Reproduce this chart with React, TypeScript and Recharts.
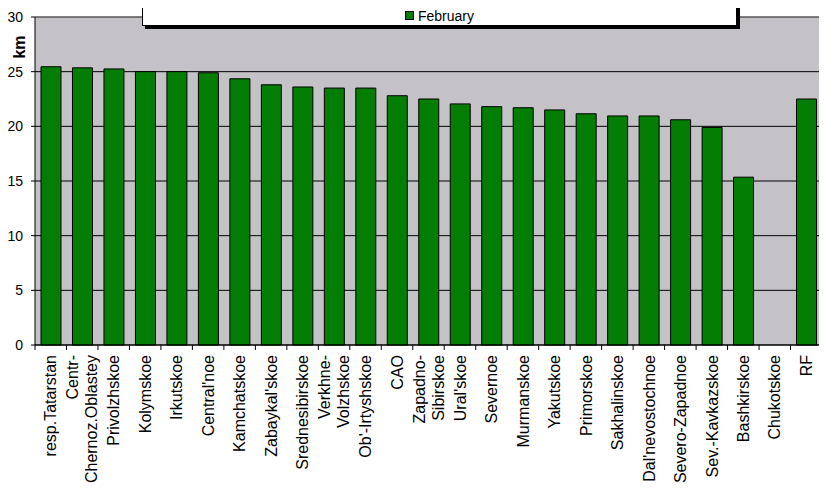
import { BarChart, Bar, XAxis, YAxis, CartesianGrid } from "recharts";

const regions = [
  "resp.Tatarstan",
  "Centr-\nChernoz.Oblastey",
  "Privolzhskoe",
  "Kolymskoe",
  "Irkutskoe",
  "Central'noe",
  "Kamchatskoe",
  "Zabaykal'skoe",
  "Srednesibirskoe",
  "Verkhne-\nVolzhskoe",
  "Ob'-Irtyshskoe",
  "CAO",
  "Zapadno-\nSibirskoe",
  "Ural'skoe",
  "Severnoe",
  "Murmanskoe",
  "Yakutskoe",
  "Primorskoe",
  "Sakhalinskoe",
  "Dal'nevostochnoe",
  "Severo-Zapadnoe",
  "Sev.-Kavkazskoe",
  "Bashkirskoe",
  "Chukotskoe",
  "RF",
];

const february = [
  25.45, 25.35, 25.25, 25.0, 25.0, 24.9, 24.35, 23.8, 23.6, 23.5, 23.5, 22.8, 22.5,
  22.05, 21.8, 21.7, 21.5, 21.15, 20.95, 20.95, 20.6, 19.9, 15.35, null, 22.5,
];

const yTicks = [0, 5, 10, 15, 20, 25, 30];

const data = regions.map((region, i) => ({ region, february: february[i] }));

const FONT = "'Liberation Sans', Arial, sans-serif";
const GREEN = "#047D04";

const RegionTick = (props: any) => {
  const { x, y, payload, index, visibleTicksCount, width } = props;
  const band = width && visibleTicksCount ? width / visibleTicksCount : 31.48;
  const axisY = y - 10;
  const lines = String(payload.value).split("\n");
  const lh = 19;
  return (
    <g>
      <line x1={x - band / 2} x2={x - band / 2} y1={axisY} y2={axisY + 5} stroke="#000" />
      {index === visibleTicksCount - 1 && (
        <line x1={x + band / 2} x2={x + band / 2} y1={axisY} y2={axisY + 5} stroke="#000" />
      )}
      <g transform={`translate(${x},${y}) rotate(-90)`}>
        {lines.map((line, i) => (
          <text
            key={i}
            x={0}
            y={0}
            dy={(i - (lines.length - 1) / 2) * lh + 5.7}
            textAnchor="end"
            fontSize={16}
            fontFamily={FONT}
            fill="#000"
          >
            {line}
          </text>
        ))}
      </g>
    </g>
  );
};

export default function App() {
  return (
    <div style={{ position: "relative", margin: -8, width: 827, height: 492, background: "#fff" }}>
      <BarChart
        width={827}
        height={492}
        data={data}
        margin={{ top: 17, right: 5, bottom: 0, left: 0 }}
        barSize={20}
      >
        <CartesianGrid vertical={false} fill="#C4C2C6" fillOpacity={1} stroke="#000" />
        <CartesianGrid
          fill="none"
          stroke="#808080"
          horizontalCoordinatesGenerator={(p: any) => [p && p.offset ? p.offset.top : 17]}
          verticalCoordinatesGenerator={(p: any) => [
            p && p.offset ? p.offset.left + p.offset.width : 822,
          ]}
        />
        <XAxis
          dataKey="region"
          interval={0}
          height={147}
          tickSize={5}
          tickMargin={5}
          tickLine={false}
          axisLine={{ stroke: "#000" }}
          tick={<RegionTick />}
        />
        <YAxis
          width={35}
          domain={[0, 30]}
          ticks={yTicks}
          tickSize={4}
          tickMargin={8}
          axisLine={{ stroke: "#000" }}
          tickLine={{ stroke: "#000" }}
          tick={{ fontSize: 14, fill: "#000", fontFamily: FONT }}
          label={{
            content: ({ viewBox }: any) => (
              <text
                transform={`translate(${viewBox.x + 25},${viewBox.y + 30}) rotate(-90)`}
                textAnchor="middle"
                fontSize={16}
                fontWeight="bold"
                fontFamily={FONT}
                fill="#000"
              >
                km
              </text>
            ),
          }}
        />
        <Bar
          dataKey="february"
          name="February"
          fill={GREEN}
          stroke="#000"
          strokeWidth={1}
          isAnimationActive={false}
        />
      </BarChart>
      <div
        style={{
          position: "absolute",
          left: 142,
          top: 5,
          width: 595,
          height: 21,
          boxSizing: "border-box",
          border: "1px solid #000",
          background: "#fff",
          boxShadow: "3px 3px 0 #000",
          display: "flex",
          alignItems: "center",
          justifyContent: "center",
          fontFamily: FONT,
          fontSize: 14,
          color: "#000",
        }}
      >
        <span
          style={{
            display: "inline-block",
            width: 9,
            height: 9,
            boxSizing: "border-box",
            background: GREEN,
            border: "1px solid #000",
            marginRight: 4,
          }}
        />
        <span>February</span>
      </div>
    </div>
  );
}
